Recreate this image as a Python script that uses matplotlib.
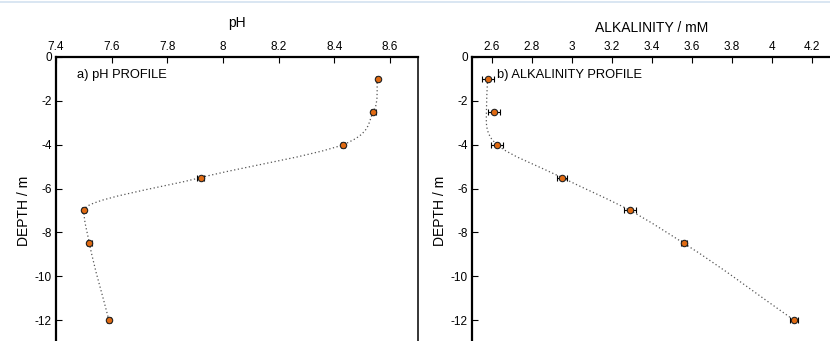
import numpy as np
import matplotlib
matplotlib.use('Agg')
import matplotlib.pyplot as plt
from matplotlib.path import Path
from matplotlib.patches import PathPatch
from matplotlib.lines import Line2D

plt.rcParams['font.family'] = ['Liberation Sans', 'DejaVu Sans']

# Depth of samples (m)
depth = [-1, -2.5, -4, -5.5, -7, -8.5, -12]

# pH profile
ph = [8.555, 8.54, 8.43, 7.92, 7.5, 7.52, 7.59]
ph_err = [0.006, 0.008, 0.008, 0.012, 0.008, 0.008, 0.006]

# Alkalinity profile (mM)
alk = [2.58, 2.61, 2.625, 2.95, 3.29, 3.56, 4.11]
alk_err = [0.03, 0.03, 0.03, 0.025, 0.03, 0.015, 0.02]

# dotted fit curve of the alkalinity panel
alk_fit_depth = [-1, -2.5, -4, -5.5, -7, -8.5, -12]
alk_fit = [2.578, 2.572, 2.625, 2.95, 3.29, 3.56, 4.11]

ORANGE = '#e06a12'


def depth_curve(xs, ys):
    # smooth x(depth) as cubic Hermite segments (Bezier form)
    xs = np.asarray(xs, float)
    ys = np.asarray(ys, float)
    h = np.diff(ys)
    d = np.diff(xs) / h
    n = len(xs)
    m = np.zeros(n)
    m[0], m[-1] = d[0], d[-1]
    for i in range(1, n - 1):
        if d[i - 1] * d[i] <= 0:
            m[i] = 0.0
        else:
            m[i] = (h[i] * d[i - 1] + h[i - 1] * d[i]) / (h[i - 1] + h[i])
    verts = [(xs[0], ys[0])]
    codes = [Path.MOVETO]
    for i in range(n - 1):
        verts += [(xs[i] + m[i] * h[i] / 3, ys[i] + h[i] / 3),
                  (xs[i + 1] - m[i + 1] * h[i] / 3, ys[i + 1] - h[i] / 3),
                  (xs[i + 1], ys[i + 1])]
        codes += [Path.CURVE4] * 3
    return Path(verts, codes)


def style_axes(ax, xlim, xticks, xticklabels, xlabel, xlabel_pad):
    ax.set_xlim(*xlim)
    ax.set_ylim(-14, 0)
    ax.set_xticks(xticks)
    ax.set_xticklabels(xticklabels)
    ax.set_yticks([0, -2, -4, -6, -8, -10, -12])
    ax.set_yticklabels(['0', '-2', '-4', '-6', '-8', '-10', '-12'])
    ax.xaxis.tick_top()
    ax.xaxis.set_label_position('top')
    ax.tick_params(direction='in', length=4, width=0.8, labelsize=8.5,
                   top=True, bottom=False, left=True, right=False, pad=3)
    ax.set_xlabel(xlabel, fontsize=10, labelpad=xlabel_pad)
    ax.set_ylabel('DEPTH / m', fontsize=10, labelpad=3)
    for side in ['left', 'top']:
        ax.spines[side].set_linewidth(1.6)
    ax.spines['right'].set_linewidth(1.1)
    ax.spines['bottom'].set_visible(False)


fig = plt.figure(figsize=(8.3, 3.41), dpi=100)

# a) pH
ax1 = fig.add_axes([0.0675, -0.0675, 0.436, 0.9005])
ax1.add_patch(PathPatch(depth_curve(ph, depth), facecolor='none',
                        edgecolor='#555555', lw=0.9, linestyle=(0, (1, 2))))
ax1.errorbar(ph, depth, xerr=ph_err, fmt='o', color='black', ecolor='black',
             elinewidth=0.8, capsize=2.5, capthick=0.8, markersize=4.6,
             markerfacecolor=ORANGE, markeredgecolor='#222222', markeredgewidth=0.8)
style_axes(ax1, (7.4, 8.7), [7.4, 7.6, 7.8, 8.0, 8.2, 8.4, 8.6],
           ['7.4', '7.6', '7.8', '8', '8.2', '8.4', '8.6'], 'pH', 10)
ax1.text(0.058, 0.941, 'a) pH PROFILE', transform=ax1.transAxes,
         fontsize=9.3, va='center', ha='left')

# b) Alkalinity
ax2 = fig.add_axes([0.5687, -0.0675, 0.4337, 0.9005])
ax2.add_patch(PathPatch(depth_curve(alk_fit, alk_fit_depth), facecolor='none',
                        edgecolor='#555555', lw=0.9, linestyle=(0, (1, 2))))
ax2.errorbar(alk, depth, xerr=alk_err, fmt='o', color='black', ecolor='black',
             elinewidth=0.8, capsize=2.5, capthick=0.8, markersize=4.6,
             markerfacecolor=ORANGE, markeredgecolor='#222222', markeredgewidth=0.8)
style_axes(ax2, (2.5, 4.3), [2.6, 2.8, 3.0, 3.2, 3.4, 3.6, 3.8, 4.0, 4.2],
           ['2.6', '2.8', '3', '3.2', '3.4', '3.6', '3.8', '4', '4.2'],
           'ALKALINITY / mM', 6)
ax2.text(0.069, 0.941, 'b) ALKALINITY PROFILE', transform=ax2.transAxes,
         fontsize=9.3, va='center', ha='left')

# thin page rule at the very top
fig.add_artist(Line2D([0, 1], [0.994, 0.994], transform=fig.transFigure,
                      color='#d3e2f0', lw=1.2))

fig.savefig('out.png', dpi=100)
